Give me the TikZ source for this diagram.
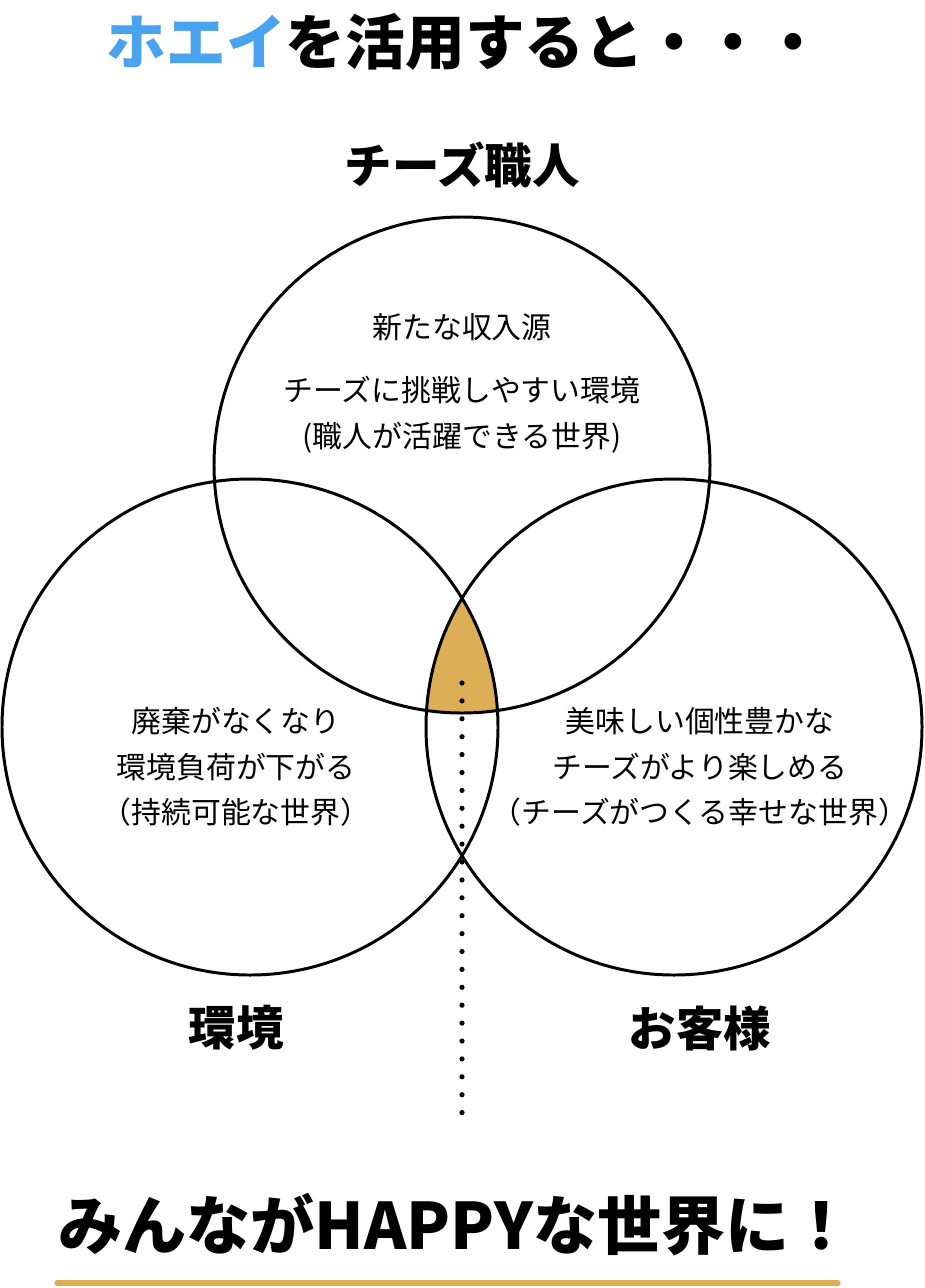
\documentclass[tikz,border=0pt]{standalone}
\usepackage{fontspec}
\setmainfont{Noto Sans CJK JP}
\usepackage{xcolor}
\usetikzlibrary{positioning}
\definecolor{wheyblue}{HTML}{4AA3EE}
\definecolor{cheesegold}{HTML}{DCAE55}

\begin{document}
\begin{tikzpicture}[
  x=0.02cm, y=-0.02cm,
  ring/.style={draw=black, line width=1.7pt},
  bodytext/.style={align=center, font=\fontsize{17}{26}\selectfont},
  grouplabel/.style={font=\fontsize{27}{32}\selectfont\bfseries},
  headline/.style={font=\fontsize{34}{40}\selectfont\bfseries},
  dotmark/.style={fill=black}
]
\useasboundingbox (0,0) rectangle (924,1288);

% Centres
\coordinate (ctop)   at (462,465);
\coordinate (cleft)  at (250,727);
\coordinate (cright) at (674,727);

% Common area
\begin{scope}
  \clip (ctop) circle (248);
  \clip (cleft) circle (248);
  \fill[cheesegold] (cright) circle (248);
\end{scope}

% Circles
\draw[ring] (ctop) circle (248);
\draw[ring] (cleft) circle (248);
\draw[ring] (cright) circle (248);

% Dotted line
\foreach \k in {0,...,24}
  \fill[dotmark] (462,{683+\k*17.9}) circle (2.6);

% Nodes
\node[headline] (title) at (465,42) {\textcolor{wheyblue}{ホエイ}を活用すると・・・};
\node[grouplabel] (maker) at (462,165) {チーズ職人};
\node[grouplabel] (env)   at (236,1028) {環境};
\node[grouplabel] (guest) at (700,1028) {お客様};

\node[bodytext] (makertxt) at (462,327) {新たな収入源};
\node[bodytext, below=13pt of makertxt] (makertxt2) {チーズに挑戦しやすい環境\\(職人が活躍できる世界)};
\node[bodytext] (envtxt) at (236,767) {廃棄がなくなり\\環境負荷が下がる\\（持続可能な世界）};
\node[bodytext] (guesttxt) at (700,767) {美味しい個性豊かな\\チーズがより楽しめる\\（チーズがつくる幸せな世界）};

\node[headline, font=\fontsize{36.5}{40}\selectfont\bfseries] (happy) at (456,1225) {みんながHAPPYな世界に！};

% Underline
\coordinate (ulstart) at (57,1283);
\coordinate (ulend)   at (838,1283);
\draw[cheesegold, line width=3pt, line cap=round] (ulstart) -- (ulend);

\end{tikzpicture}
\end{document}
